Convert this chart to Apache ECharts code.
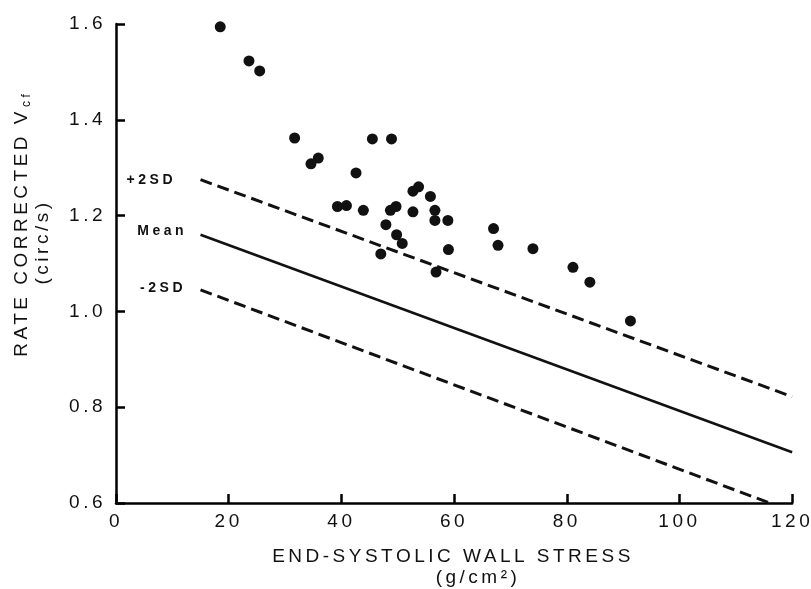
<!DOCTYPE html>
<html>
<head>
<meta charset="utf-8">
<script src="https://cdn.jsdelivr.net/npm/echarts@6/dist/echarts.min.js"></script>
<style>
  html, body { margin: 0; padding: 0; background: #fff; }
  #chart { width: 811px; height: 589px; }
</style>
</head>
<body>
<div id="chart"></div>
<script>
// measured points: end-systolic wall stress (g/cm2) vs rate corrected Vcf (circ/s)
const stressX = [18.5, 23.6, 25.5, 31.7, 34.6, 35.9, 39.3, 40.9, 42.6, 43.9, 45.5,
  47.0, 47.9, 48.7, 48.9, 49.7, 49.8, 50.8, 52.7, 53.7, 52.7, 55.8, 56.6, 56.6,
  58.9, 59.0, 56.8, 67.0, 67.8, 74.0, 81.1, 84.1, 91.3];
const vcfY = [1.594, 1.523, 1.502, 1.362, 1.308, 1.320, 1.219, 1.221, 1.289, 1.211, 1.360,
  1.120, 1.181, 1.211, 1.360, 1.219, 1.160, 1.142, 1.251, 1.260, 1.208, 1.240, 1.211, 1.190,
  1.190, 1.129, 1.082, 1.173, 1.138, 1.131, 1.092, 1.061, 0.980];

// normal range lines (start and end)
const refX = [15, 120];
const meanY = [1.16, 0.706];
const plus2X = [15, 120];
const plus2Y = [1.275, 0.822];
const minus2X = [15, 116];
const minus2Y = [1.045, 0.6];

const xTicks = [0, 20, 40, 60, 80, 100, 120];
const yTicks = [0.6, 0.8, 1.0, 1.2, 1.4, 1.6];

const FONT = '"Liberation Sans", Arial, Helvetica, sans-serif';
const INK = '#111';

// the printed figure uses widely spaced lettering
const fillTextOrig = CanvasRenderingContext2D.prototype.fillText;
CanvasRenderingContext2D.prototype.fillText = function (t, x, y, w) {
  this.letterSpacing = '3.5px';
  return w === undefined ? fillTextOrig.call(this, t, x, y) : fillTextOrig.call(this, t, x, y, w);
};

const chart = echarts.init(document.getElementById('chart'));

function refLine(xs, ys, name, dashed, labelDist, labelOffset) {
  const data = xs.map((x, i) => {
    const item = { value: [x, ys[i]] };
    if (i === 0) {
      item.symbol = 'circle';
      item.symbolSize = 1;
      item.itemStyle = { color: 'transparent' };
      item.label = {
        show: true,
        position: 'left',
        distance: labelDist,
        offset: labelOffset,
        formatter: name,
        color: INK,
        fontFamily: FONT,
        fontSize: 14,
        fontWeight: 'bold'
      };
    } else {
      item.symbol = 'none';
    }
    return item;
  });
  return {
    type: 'line',
    name: name,
    data: data,
    showSymbol: true,
    silent: true,
    lineStyle: {
      color: INK,
      width: dashed ? 3 : 2.5,
      type: dashed ? [12, 6] : 'solid'
    }
  };
}

const option = {
  backgroundColor: '#fff',
  animation: false,
  grid: { left: 116, right: 18, top: 24, bottom: 86 },
  xAxis: {
    type: 'value',
    min: xTicks[0],
    max: xTicks[xTicks.length - 1],
    interval: 20,
    axisLine: { show: true, lineStyle: { color: '#000', width: 2.5 } },
    axisTick: { show: true, inside: true, length: 9, lineStyle: { color: '#000', width: 2.5 } },
    splitLine: { show: false },
    axisLabel: { color: INK, fontFamily: FONT, fontSize: 19, margin: 9 }
  },
  yAxis: {
    type: 'value',
    min: yTicks[0],
    max: yTicks[yTicks.length - 1],
    interval: 0.2,
    axisLine: { show: true, lineStyle: { color: '#000', width: 2.5 } },
    axisTick: { show: true, inside: true, length: 9, lineStyle: { color: '#000', width: 2.5 } },
    splitLine: { show: false },
    axisLabel: {
      color: INK, fontFamily: FONT, fontSize: 19, margin: 10,
      formatter: v => v.toFixed(1)
    }
  },
  graphic: [
    {
      type: 'group', x: 22, y: 238, rotation: Math.PI / 2,
      children: [
        { type: 'text', x: 130, y: 0,
          style: { text: 'RATE CORRECTED V', textAlign: 'right', textVerticalAlign: 'middle', verticalAlign: 'middle',
                   fontFamily: FONT, fontSize: 19, fill: INK } },
        { type: 'text', x: 131, y: 5,
          style: { text: 'cf', textAlign: 'left', textVerticalAlign: 'middle', verticalAlign: 'middle',
                   fontFamily: FONT, fontSize: 12, fill: INK } }
      ]
    },
    { type: 'text', x: 43, y: 242, rotation: Math.PI / 2,
      style: { text: '(circ/s)', textAlign: 'center', textVerticalAlign: 'middle', verticalAlign: 'middle',
               fontFamily: FONT, fontSize: 19, fill: INK } },
    { type: 'text', x: 453, y: 557,
      style: { text: 'END-SYSTOLIC WALL STRESS', textAlign: 'center', textVerticalAlign: 'middle', verticalAlign: 'middle',
               fontFamily: FONT, fontSize: 19, fill: INK } },
    { type: 'text', x: 478, y: 578,
      style: { text: '(g/cm\u00B2)', textAlign: 'center', textVerticalAlign: 'middle', verticalAlign: 'middle',
               fontFamily: FONT, fontSize: 19, fill: INK } }
  ],
  series: [
    refLine(plus2X, plus2Y, '+2SD', true, 24, [0, 0]),
    refLine(refX, meanY, 'Mean', false, 13, [0, -4]),
    refLine(minus2X, minus2Y, '-2SD', true, 14, [0, -2]),
    {
      type: 'scatter',
      name: 'Patients',
      data: stressX.map((x, i) => [x, vcfY[i]]),
      symbol: 'circle',
      symbolSize: 11,
      itemStyle: { color: INK, opacity: 1 }
    }
  ]
};

chart.setOption(option);
</script>
</body>
</html>
